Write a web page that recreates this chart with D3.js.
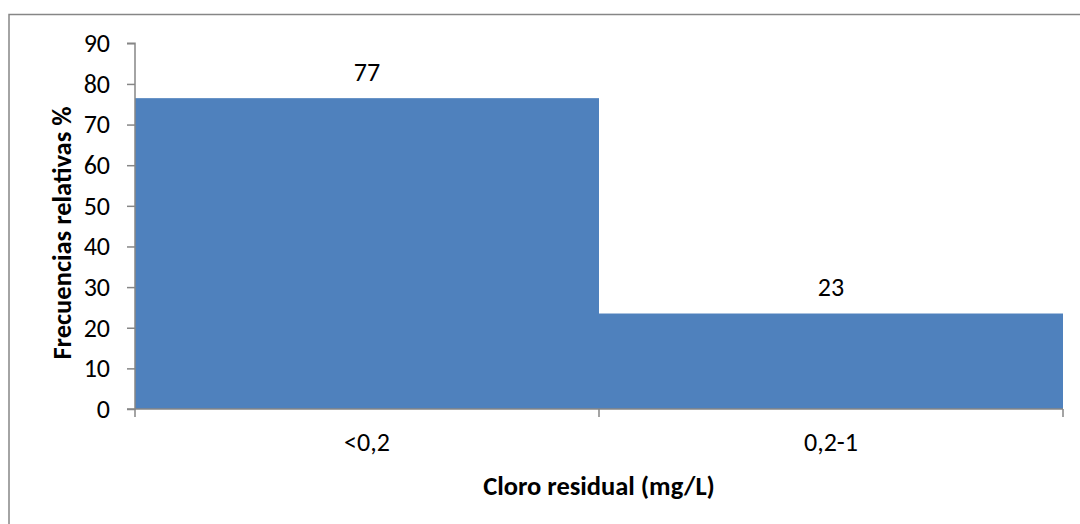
<!DOCTYPE html>
<html><head><meta charset="utf-8">
<script src="https://cdn.jsdelivr.net/npm/d3@7"></script>
<style>
body{margin:0;background:#fff;}
text{font-family:Carlito,Lato,"Open Sans",sans-serif;fill:#000;}
</style></head>
<body><svg id="c" width="1080" height="524"></svg>
<script>
const categories = ["<0,2", "0,2-1"];
const values = [76.5, 23.5];
const labels = ["77", "23"];
const yTicks = [0,10,20,30,40,50,60,70,80,90];

const svg = d3.select("#c");
svg.append("rect").attr("x",9).attr("y",14.5).attr("width",1090).attr("height",540)
  .attr("fill","none").attr("stroke","#868686").attr("stroke-width",1.5);

const m = {l:135, r:1063, t:43.3, b:409};
const x = d3.scaleBand().domain(categories).range([m.l, m.r]).padding(0);
const y = d3.scaleLinear().domain([0,90]).range([m.b, m.t]);
const FS = 26;

svg.selectAll("rect.bar").data(values).enter().append("rect").attr("class","bar")
  .attr("x",(d,i)=>x(categories[i])).attr("width",x.bandwidth())
  .attr("y",d=>y(d)).attr("height",d=>y(0)-y(d)).attr("fill","#4f81bd");

svg.selectAll("text.val").data(values).enter().append("text").attr("class","val")
  .attr("x",(d,i)=>x(categories[i])+x.bandwidth()/2).attr("y",d=>y(d)-17.5)
  .attr("text-anchor","middle").attr("font-size",FS).text((d,i)=>labels[i]);

const ya = svg.append("g").attr("transform",`translate(${m.l},0)`)
  .call(d3.axisLeft(y).tickValues(yTicks).tickSize(8).tickPadding(17));
const xa = svg.append("g").attr("transform",`translate(0,${m.b})`)
  .call(d3.axisBottom(x).tickSize(0).tickPadding(23.5));
svg.selectAll("line.xt").data([m.l, x(categories[1]), m.r]).enter().append("line")
  .attr("x1",d=>d).attr("x2",d=>d).attr("y1",m.b).attr("y2",m.b+8)
  .attr("stroke","#868686").attr("stroke-width",1.5);
[ya,xa].forEach(a=>{
  a.selectAll("path").attr("stroke","#868686").attr("stroke-width",1.5);
  a.selectAll("line").attr("stroke","#868686").attr("stroke-width",1.5);
  a.selectAll("text").attr("font-size",FS).attr("font-family","Carlito,Lato,'Open Sans',sans-serif").attr("fill","#000");
});
ya.select("path.domain").attr("d",`M-8,${m.t}H0V${m.b}H-8`);
xa.select("path.domain").attr("d",`M${m.l},0H${m.r}`);

svg.append("text").attr("transform","translate(71,233) rotate(-90)")
  .attr("text-anchor","middle").attr("font-size",26.5).attr("font-weight","bold")
  .text("Frecuencias relativas %");
svg.append("text").attr("x",599).attr("y",495).attr("text-anchor","middle")
  .attr("font-size",26.5).attr("font-weight","bold").text("Cloro residual (mg/L)");
</script></body></html>
